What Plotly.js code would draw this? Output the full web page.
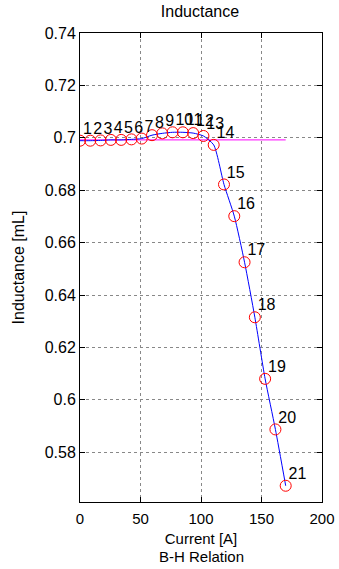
<!DOCTYPE html>
<html>
<head>
<meta charset="utf-8">
<script src="https://cdn.plot.ly/plotly-3.0.1.min.js"></script>
<style>html,body{margin:0;padding:0;background:#fff;}#chart{width:339px;height:569px;}</style>
</head>
<body>
<div id="chart"></div>
<script>
// Current [A]
const current = [0, 8.5, 17, 25.5, 34, 42.5, 51, 59.5, 68, 76.5, 85, 93.5, 102, 110.5, 119, 127.5, 136, 144.5, 153, 161.5, 170];
// Inductance [mL]
const inductance = [0.6989, 0.6989, 0.6990, 0.6992, 0.6992, 0.6994, 0.6997, 0.7010, 0.7017, 0.7021, 0.7021, 0.7018, 0.7007, 0.6973, 0.6822, 0.6701, 0.6525, 0.6315, 0.6080, 0.5887, 0.5672];
// point labels
const pointLabels = ["1","2","3","4","5","6","7","8","9","10","11","12","13","14","15","16","17","18","19","20","21"];
// reference (magenta) line
const refX = [0, 170];
const refY = [0.6992, 0.6992];
// ticks
const yTickVals = [0.58, 0.6, 0.62, 0.64, 0.66, 0.68, 0.7, 0.72, 0.74];
const yTickText = ["0.58", "0.6", "0.62", "0.64", "0.66", "0.68", "0.7", "0.72", "0.74"];
const xTickVals = [0, 50, 100, 150, 200];
const xTickText = ["0", "50", "100", "150", "200"];

const font = "Liberation Sans, Arial, sans-serif";

const traces = [
  {x: refX, y: refY, mode: "lines", line: {color: "#ff00ff", width: 1}, hoverinfo: "skip"},
  {x: current, y: inductance, mode: "lines", line: {color: "#0000ff", width: 1, shape: "spline", smoothing: 0.6}},
  {x: current, y: inductance, mode: "markers", marker: {symbol: "circle-open", size: 11, color: "#ff0000", line: {width: 1, color: "#ff0000"}}},
  {x: current, y: inductance, mode: "markers+text", text: pointLabels, textposition: "top right",
   marker: {size: 3, opacity: 0},
   textfont: {family: font, size: 16, color: "#000"}}
];

const layout = {
  width: 339, height: 569,
  margin: {l: 80, r: 17, t: 33, b: 67},
  paper_bgcolor: "#fff", plot_bgcolor: "#fff",
  showlegend: false,
  font: {family: font, size: 15, color: "#000"},
  title: {text: "Inductance", font: {family: font, size: 16, color: "#000"}, x: 0.59, xanchor: "center", y: 0.99, yanchor: "top"},
  xaxis: {
    range: [0, 200], tickvals: xTickVals, ticktext: xTickText,
    showline: true, mirror: "ticks", linecolor: "#000", linewidth: 1,
    ticks: "inside", ticklen: 5, tickcolor: "#000", ticklabelstandoff: 3,
    showgrid: true, gridcolor: "#888", griddash: "dot", gridwidth: 1,
    zeroline: false, tickfont: {family: font, size: 15},
    title: {text: "Current [A]", font: {family: font, size: 15}, standoff: 7}
  },
  yaxis: {
    range: [0.561, 0.74], tickvals: yTickVals, ticktext: yTickText,
    showline: true, mirror: "ticks", linecolor: "#000", linewidth: 1,
    ticks: "inside", ticklen: 5, tickcolor: "#000",
    showgrid: true, gridcolor: "#888", griddash: "dot", gridwidth: 1,
    zeroline: false, tickfont: {family: font, size: 16},
    title: {text: "Inductance [mL]", font: {family: font, size: 16}, standoff: 16}
  },
  annotations: [
    {text: "B-H Relation", xref: "paper", yref: "paper", x: 0.5, y: -0.117, xanchor: "center", yanchor: "middle",
     showarrow: false, font: {family: font, size: 15, color: "#000"}}
  ]
};

Plotly.newPlot("chart", traces, layout, {staticPlot: true, displayModeBar: false});
</script>
</body>
</html>
